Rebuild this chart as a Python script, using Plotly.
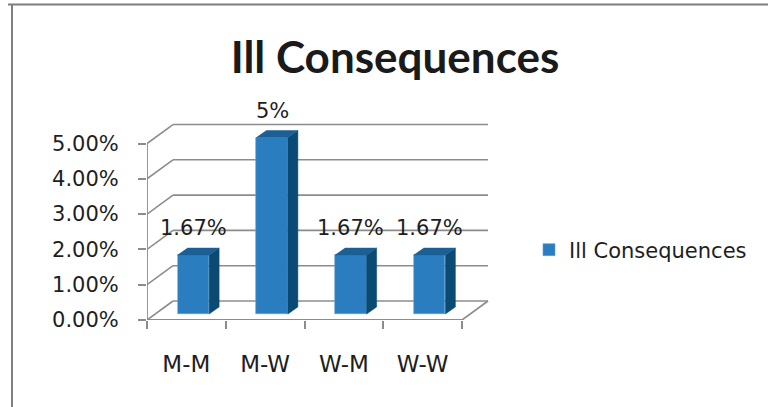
import numpy as np
import plotly.graph_objects as go

# ---- data ----
categories = ["M-M", "M-W", "W-M", "W-W"]
values = [0.0167, 0.05, 0.0167, 0.0167]
label_text = ["1.67%", "5%", "1.67%", "1.67%"]
ytick_vals = [0.0, 0.01, 0.02, 0.03, 0.04, 0.05]
series_name = "Ill Consequences"

# ---- geometry / style constants ----
W, H = 768, 407
M_L, M_R, M_T, M_B = 147, 276, 80, 87
Y_MAX = 0.068
X_MIN = -0.5
X_MAX = 3.5 + 30 / 78.75
px_x = (W - M_L - M_R) / (X_MAX - X_MIN)       # px per category unit
px_y = (H - M_T - M_B) / Y_MAX                  # px per y unit

def ux(p):
    return p / px_x

def uy(p):
    return p / px_y

WALL_DX, WALL_DY = ux(26), uy(19)       # depth of the box
BAR_SX, BAR_SY = ux(7), uy(6)           # bar front plane offset
BAR_DX, BAR_DY = ux(10), uy(7)          # bar depth
BAR_W = ux(31.5)

FRONT = "#2A7EBF"
SIDE = "#0B4A73"
TOP = "#1B5F95"
GRID = "#8C8C8C"
TXT = "#1E1E1E"
FONT = "DejaVu Sans"

xs = np.arange(len(categories), dtype=float)
n = len(categories)
boundaries = [X_MIN + i for i in range(n + 1)]

fig = go.Figure()

# front faces of bars
fig.add_trace(go.Bar(
    x=xs + BAR_SX, y=values, base=BAR_SY, width=BAR_W,
    marker=dict(color=FRONT, line=dict(width=0.6, color="#5FA2D6")),
    name=series_name, showlegend=True, hoverinfo="skip",
))

# side and top faces
for xc, v in zip(xs, values):
    xl = xc + BAR_SX - BAR_W / 2
    xr = xc + BAR_SX + BAR_W / 2
    b = BAR_SY
    t = BAR_SY + v
    fig.add_trace(go.Scatter(
        x=[xr, xr + BAR_DX, xr + BAR_DX, xr, xr],
        y=[b, b + BAR_DY, t + BAR_DY, t, b],
        fill="toself", fillcolor=SIDE, mode="lines",
        line=dict(width=0.5, color=SIDE), showlegend=False, hoverinfo="skip"))
    fig.add_trace(go.Scatter(
        x=[xl, xl + BAR_DX, xr + BAR_DX, xr, xl],
        y=[t, t + BAR_DY, t + BAR_DY, t, t],
        fill="toself", fillcolor=TOP, mode="lines",
        line=dict(width=0.5, color=TOP), showlegend=False, hoverinfo="skip"))

# invisible trace on the tick axis so it is drawn
fig.add_trace(go.Scatter(x=[X_MIN], y=[0], xaxis="x2", mode="markers",
                         marker=dict(opacity=0), showlegend=False, hoverinfo="skip"))

# walls and gridlines
shapes = []
xb0 = X_MIN
xb1 = X_MIN + n
for v in ytick_vals:
    shapes.append(dict(type="line", xref="x", yref="y", x0=xb0, y0=v,
                       x1=xb0 + WALL_DX, y1=v + WALL_DY,
                       line=dict(color=GRID, width=1.6), layer="below"))
    shapes.append(dict(type="line", xref="x", yref="y", x0=xb0 + WALL_DX, y0=v + WALL_DY,
                       x1=xb1 + WALL_DX, y1=v + WALL_DY,
                       line=dict(color=GRID, width=1.6), layer="below"))
shapes.append(dict(type="line", xref="x", yref="y", x0=xb0, y0=0, x1=xb1, y1=0,
                   line=dict(color=GRID, width=1.8), layer="below"))
shapes.append(dict(type="line", xref="x", yref="y", x0=xb1, y0=0,
                   x1=xb1 + WALL_DX, y1=WALL_DY,
                   line=dict(color=GRID, width=1.6), layer="below"))
shapes.append(dict(type="line", xref="x", yref="y", x0=xb0, y0=0, x1=xb0, y1=ytick_vals[-1],
                   line=dict(color=GRID, width=1.8), layer="below"))

# outer frame of the picture (top and left edges)
pw = W - M_L - M_R
ph = H - M_T - M_B
def paper_x(p):
    return (p - M_L) / pw
def paper_y(q):
    return (H - M_B - q) / ph
shapes.append(dict(type="line", xref="paper", yref="paper",
                   x0=paper_x(8), y0=paper_y(4.5), x1=paper_x(W), y1=paper_y(4.5),
                   line=dict(color="#7F7F7F", width=2)))
shapes.append(dict(type="line", xref="paper", yref="paper",
                   x0=paper_x(12), y0=paper_y(4.5), x1=paper_x(12), y1=paper_y(H),
                   line=dict(color="#7F7F7F", width=2)))

annotations = []
for xc, v, txt in zip(xs, values, label_text):
    annotations.append(dict(x=xc + BAR_SX, y=BAR_SY + v, xref="x", yref="y",
                            text=txt, showarrow=False, yanchor="middle",
                            yshift=27, font=dict(family=FONT, size=21, color=TXT)))

fig.update_layout(
    width=W, height=H,
    margin=dict(l=M_L, r=M_R, t=M_T, b=M_B, pad=0),
    paper_bgcolor="white", plot_bgcolor="rgba(0,0,0,0)",
    title=dict(text="<b>Ill Consequences</b>", xref="container", yref="container",
               x=395 / W, xanchor="center", y=1 - 57.5 / H, yanchor="middle",
               font=dict(family="Lato", size=44, color="#1A1A1A")),
    xaxis=dict(range=[X_MIN, X_MAX], tickvals=list(xs), ticktext=categories,
               ticks="", showgrid=False, zeroline=False, showline=False,
               tickfont=dict(family=FONT, size=23, color=TXT), ticklabelstandoff=28),
    xaxis2=dict(range=[X_MIN, X_MAX], overlaying="x", side="bottom", anchor="y",
                tickvals=boundaries, ticks="outside", ticklen=8, tickcolor=GRID,
                tickwidth=1.8, showticklabels=False, showgrid=False, zeroline=False,
                showline=False),
    yaxis=dict(range=[0, Y_MAX], tickvals=ytick_vals, tickformat=".2%",
               ticks="outside", ticklen=8, tickcolor=GRID, tickwidth=1.8,
               showgrid=False, zeroline=False, showline=False,
               tickfont=dict(family=FONT, size=21, color=TXT), ticklabelstandoff=15),
    legend=dict(xref="container", yref="container", x=529 / W, y=1 - 250 / H,
                xanchor="left", yanchor="middle", bgcolor="rgba(0,0,0,0)",
                font=dict(family=FONT, size=21, color=TXT)),
    shapes=shapes, annotations=annotations, bargap=0,
)

fig.write_html("out.html", config={"displayModeBar": False},
               post_script="document.body.style.margin='0';")
